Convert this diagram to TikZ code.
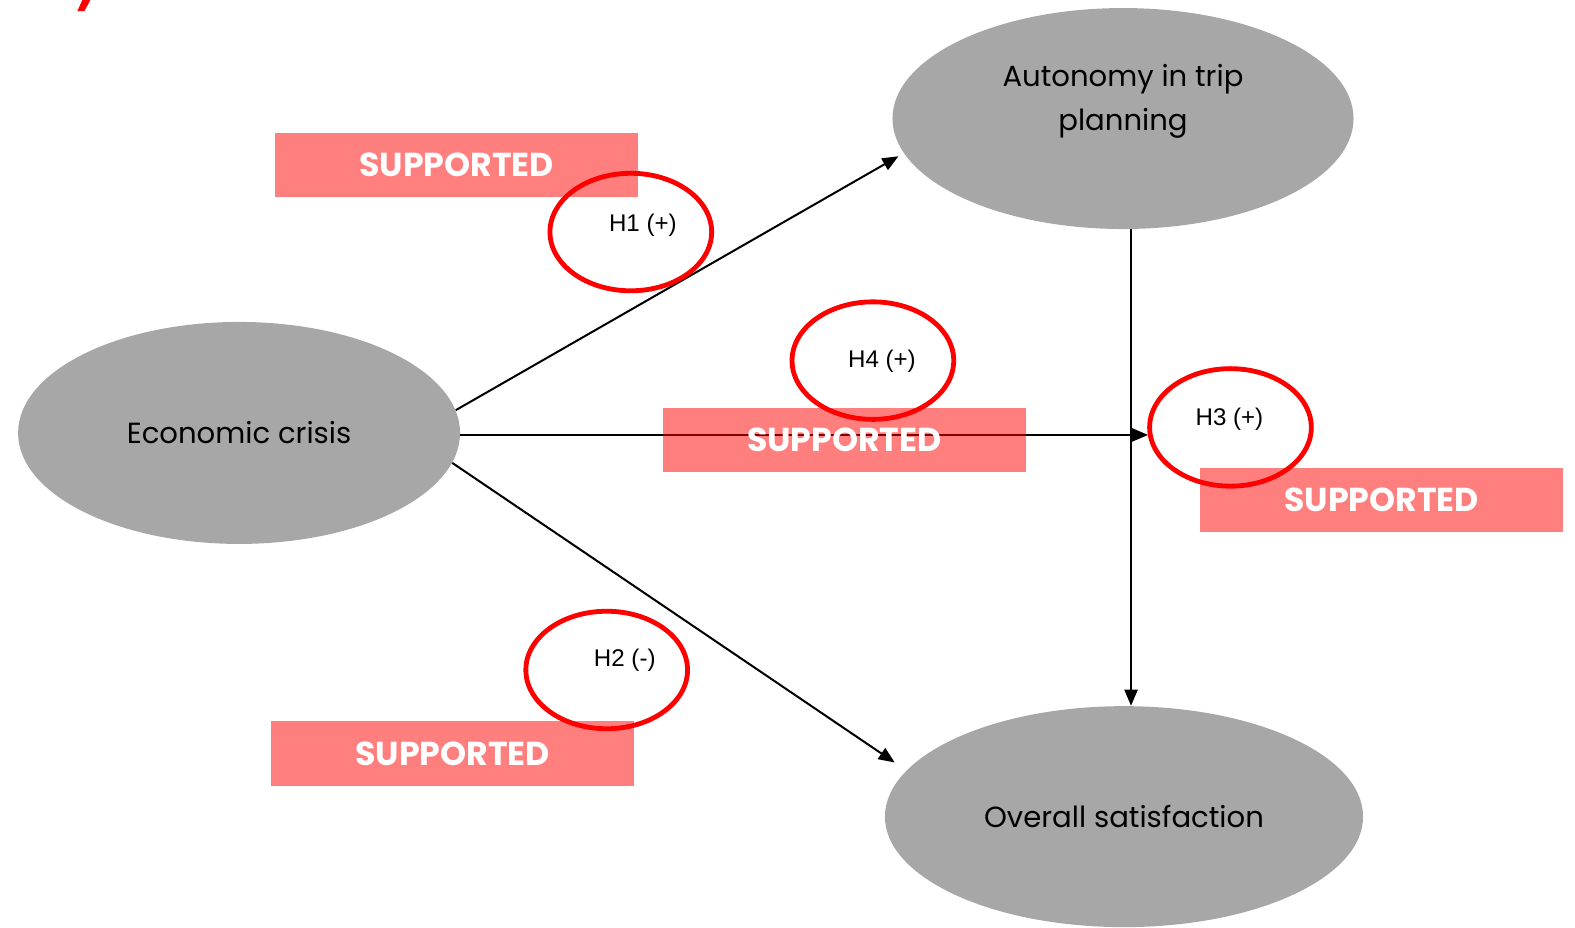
\documentclass[tikz,border=0pt]{standalone}
\usepackage{fontspec}
\usetikzlibrary{shapes.geometric,arrows.meta,calc}
\newfontfamily\popfont{Poppins}
\newfontfamily\hfont{Liberation Sans}
\definecolor{ellgray}{RGB}{167,167,167}
\tikzset{
  construct/.style={ellipse, fill=ellgray, inner sep=0pt, align=center, font=\popfont\fontsize{14.5}{22}\selectfont, text=black},
  ctext/.style={inner sep=0pt, align=center, font=\popfont\fontsize{14.5}{22}\selectfont, text=black},
  supbox/.style={rectangle, fill=red, fill opacity=0.5, text opacity=1, text=white, minimum width=180.5pt, minimum height=32pt, inner sep=0pt, font=\popfont\bfseries\fontsize{16.5}{18}\selectfont},
  hcircle/.style={ellipse, draw=red, line width=2.4pt, minimum width=80.5pt, minimum height=58.5pt, inner sep=0pt},
  hlabel/.style={inner sep=0pt, font=\hfont\fontsize{12}{14}\selectfont, text=black},
  conn/.style={line width=1pt, -{Triangle[length=8pt,width=6.5pt]}}
}
\begin{document}
\begin{tikzpicture}[x=0.5pt,y=-0.5pt]
\useasboundingbox (0,0) rectangle (1568,923);
% red mark top-left
\fill[red] (82,0) -- (90,0) -- (84,11) -- (77,11) -- cycle;
% constructs
\node[construct, minimum width=220pt, minimum height=110.5pt] (ec) at (238,431) {Economic crisis};
\node[construct, minimum width=229.5pt, minimum height=110pt] (au) at (1118,118) {};
\node[ctext] (aut) at (1118,101) {Autonomy in trip\\planning};
\node[construct, minimum width=238pt, minimum height=110pt] (ov) at (1119,813) {Overall satisfaction};
% connectors
\coordinate (vx) at (1126,0);
\coordinate (h3tip) at (1143,433);
\draw[conn, shorten >=3pt] (ec.6) -- (au.189);
\draw[conn] (ec.east |- h3tip) -- (h3tip);
\draw[conn, shorten >=7pt] (ec.-8) -- (ov.168);
\draw[conn] (au.south -| vx) -- (ov.north -| vx);
% supported boxes
\node[supbox] (s1) at (454.5,164) {SUPPORTED};
\node[supbox] (s4) at (840.5,438) {SUPPORTED};
\node[supbox] (s3) at (1375.5,497.5) {SUPPORTED};
\node[supbox] (s2) at (450.5,750) {SUPPORTED};
% hypothesis circles
\node[hcircle] (c1) at (628,231) {};
\node[hcircle] (c4) at (869,359) {};
\node[hcircle] (c3) at (1225,425.5) {};
\node[hcircle] (c2) at (604,667) {};
\node[hlabel] (h1) at (640,224) {H1 (+)};
\node[hlabel] (h4) at (878,360) {H4 (+)};
\node[hlabel] (h3) at (1224,417) {H3 (+)};
\node[hlabel] (h2) at (622,657) {H2 (-)};
\end{tikzpicture}
\end{document}
